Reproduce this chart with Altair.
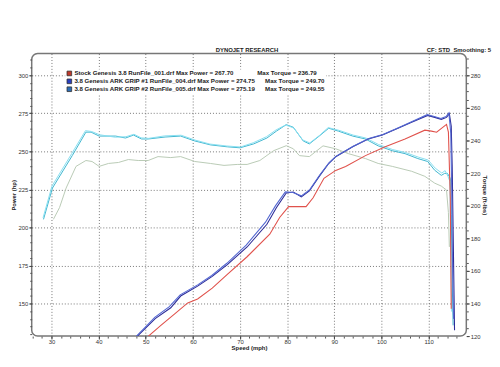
import altair as alt
import pandas as pd

FONT = "Liberation Sans"
NB = "\u00a0"

# ---------------- data ----------------
run_labels = [
    "Stock Genesis 3.8 RunFile_001.drf Max Power = 267.70" + NB * 14 + "Max Torque = 236.79",
    "3.8 Genesis ARK GRIP #1 RunFile_004.drf Max Power = 274.75" + NB * 6 + "Max Torque = 249.70",
    "3.8 Genesis ARK GRIP #2 RunFile_005.drf Max Power = 275.19" + NB * 6 + "Max Torque = 249.55",
]
torque_names = ["Stock torque", "GRIP #1 torque", "GRIP #2 torque"]

# Power (hp) vs speed (mph)
stock_p_speed = [50.5, 53.2, 56.2, 58.9, 61.0, 64.1, 67.3, 71.5, 76.3, 78.4, 80.3, 84.0, 85.5,
                 87.8, 90.3, 92.4, 96.6, 100.8, 105.0, 109.2, 110.6, 111.7, 113.8, 114.2, 114.6, 114.8]
stock_p = [128.5, 135.7, 143.4, 150.5, 153.1, 160.2, 169.2, 180.8, 195.6, 206.6, 213.7, 213.7, 219.5,
           232.3, 237.5, 240.1, 247.2, 253.0, 258.1, 263.9, 263.3, 262.6, 267.7, 262.6, 219.5, 146.6]

g1_p_speed = [48.0, 49.9, 52.0, 55.3, 57.4, 61.0, 64.1, 67.3, 71.5, 75.7, 77.7, 79.8, 81.3, 83.0,
              84.7, 86.8, 88.8, 90.3, 93.9, 97.2, 100.2, 103.5, 106.4, 109.8, 111.3, 112.7, 113.8,
              114.4, 114.8, 115.0, 115.2, 115.4, 115.5]
g1_p = [128.0, 133.8, 140.2, 147.3, 155.0, 161.5, 167.9, 175.6, 187.2, 202.1, 213.0, 222.7, 223.3, 220.1,
        224.0, 233.6, 242.0, 246.5, 253.0, 258.1, 260.7, 265.2, 269.1, 273.6, 272.3, 271.0, 272.3,
        274.75, 266.5, 240.7, 198.2, 155.0, 132.5]

g2_p_speed = [47.8, 49.8, 51.9, 55.0, 57.3, 61.0, 64.0, 67.2, 71.3, 75.4, 77.5, 79.6, 81.2, 83.0,
              84.8, 86.9, 88.9, 90.4, 94.0, 97.3, 100.3, 103.6, 106.5, 109.7, 111.2, 112.6, 113.7,
              114.3, 114.7, 114.9, 115.1, 115.3]
g2_p = [128.0, 134.2, 141.0, 148.0, 155.8, 162.3, 168.5, 176.5, 188.4, 203.5, 214.2, 223.4, 223.0, 220.8,
        224.9, 234.5, 242.6, 246.9, 253.4, 258.4, 261.1, 265.5, 269.6, 274.1, 272.9, 271.6, 272.8,
        275.19, 262.0, 225.0, 170.0, 140.0]

# Torque (ft-lbs) vs speed (mph)
stock_t_speed = [30.4, 31.7, 33.1, 35.2, 37.3, 38.6, 40.1, 42.1, 44.2, 46.3, 48.4, 50.5, 52.6, 55.3,
                 57.4, 60.4, 63.7, 66.6, 69.4, 71.5, 74.2, 77.1, 79.8, 81.3, 82.6, 84.7, 87.6, 90.3,
                 93.0, 96.6, 99.3, 102.3, 106.4, 109.2, 111.3, 112.7, 113.8, 114.2, 114.4]
stock_t = [191.6, 198.8, 210.8, 224.1, 227.7, 227.1, 224.1, 225.9, 226.5, 228.3, 227.7, 227.7, 230.1, 229.5,
           230.1, 227.1, 225.9, 224.7, 225.3, 225.3, 227.7, 233.7, 236.79, 234.9, 230.7, 230.1, 236.7, 234.9,
           231.9, 228.9, 225.9, 224.1, 221.1, 218.0, 213.8, 212.0, 209.6, 195.8, 174.7]

g1_t_speed = [28.3, 30.2, 34.4, 37.3, 38.4, 40.1, 43.6, 45.7, 47.4, 49.1, 50.5, 54.1, 57.4, 60.4,
              63.7, 67.3, 70.0, 72.9, 75.7, 77.7, 79.8, 81.3, 83.4, 84.7, 86.8, 88.8, 90.9, 93.9,
              96.6, 99.3, 102.3, 105.0, 107.7, 109.8, 111.3, 112.7, 113.4, 114.0, 114.6, 114.8, 115.0, 115.2]
g1_t = [191.6, 210.8, 230.7, 245.1, 245.1, 242.7, 242.7, 241.5, 243.3, 240.9, 240.9, 242.1, 242.7, 239.7,
        237.3, 236.1, 235.5, 237.9, 241.5, 245.7, 249.7, 248.1, 239.7, 237.9, 242.7, 247.5, 245.7, 242.7,
        240.9, 236.7, 233.7, 231.9, 228.9, 227.1, 221.7, 218.6, 219.8, 219.8, 216.8, 194.6, 154.9, 126.6]

g2_t_speed = [28.2, 30.1, 34.3, 37.2, 38.5, 40.2, 43.5, 45.8, 47.5, 49.0, 50.6, 54.0, 57.5, 60.5,
              63.6, 67.2, 70.1, 72.8, 75.6, 77.6, 79.7, 81.4, 83.3, 84.8, 86.9, 88.7, 91.0, 94.0,
              96.7, 99.4, 102.4, 105.1, 107.8, 109.9, 111.4, 112.8, 113.5, 114.1, 114.5, 114.7, 114.9]
g2_t = [192.5, 212.0, 232.0, 246.0, 245.5, 243.5, 242.0, 242.3, 243.8, 241.6, 241.3, 242.8, 243.2, 240.2,
        237.8, 236.6, 236.0, 238.6, 242.3, 246.4, 249.55, 247.6, 240.3, 238.5, 243.2, 247.9, 246.2, 243.3,
        241.5, 237.5, 234.4, 232.6, 229.8, 228.0, 223.0, 220.0, 221.5, 218.0, 215.0, 180.0, 135.0]

speed_ticks = [30, 40, 50, 60, 70, 80, 90, 100, 110]
speed_minor = list(range(26, 118, 2))
power_ticks = [150, 175, 200, 225, 250, 275, 300]
power_minor = list(range(130, 315, 5))
torque_ticks = [120, 140, 160, 180, 200, 220, 240, 260, 280]
torque_minor = list(range(120, 294, 5))

power_colors = ["#e0524c", "#2c2c98", "#5468d2"]
legend_colors = ["#c0392b", "#2a3fc0", "#2c6db5"]
torque_colors = ["#b9cab5", "#3fb6cf", "#88def0"]


def frame(speeds, vals, name):
    return pd.DataFrame({"speed": speeds, "value": vals, "run": name, "idx": list(range(len(speeds)))})


power_df = pd.concat([
    frame(stock_p_speed, stock_p, run_labels[0]),
    frame(g1_p_speed, g1_p, run_labels[1]),
    frame(g2_p_speed, g2_p, run_labels[2]),
])
torque_df = pd.concat([
    frame(stock_t_speed, stock_t, torque_names[0]),
    frame(g1_t_speed, g1_t, torque_names[1]),
    frame(g2_t_speed, g2_t, torque_names[2]),
])

X_DOM = [25.8, 118.0]
P_DOM = [128.7, 314.2]
T_DOM = [120, 293.3]


def xs():
    return alt.Scale(domain=X_DOM, nice=False, zero=False)


def ps():
    return alt.Scale(domain=P_DOM, nice=False, zero=False)


def ts():
    return alt.Scale(domain=T_DOM, nice=False, zero=False)


lab = dict(labelFont=FONT, labelFontSize=6, labelColor="#333", titleFont=FONT,
           titleFontSize=6, titleFontWeight="bold", titleColor="#222", domain=False)

# minor tick layers (invisible marks, only axes)
minor_p = alt.Chart(power_df).mark_line(opacity=0).encode(
    x=alt.X("speed:Q", scale=xs(), axis=alt.Axis(orient="bottom", values=speed_minor, labels=False,
                                                  title=None, grid=False, domain=False, tickSize=2,
                                                  tickColor="#555")),
    y=alt.Y("value:Q", scale=ps(),
            axis=alt.Axis(orient="left", values=power_minor, labels=False, title=None, grid=False,
                          domain=False, tickSize=2, tickColor="#555")),
    detail="run:N",
)
minor_t = alt.Chart(torque_df).mark_line(opacity=0).encode(
    x=alt.X("speed:Q", scale=xs(), axis=None),
    y=alt.Y("value:Q", scale=ts(),
            axis=alt.Axis(orient="right", values=torque_minor, labels=False, title=None, grid=False,
                          domain=False, tickSize=2, tickColor="#555")),
    detail="run:N",
)

torque = alt.Chart(torque_df).mark_line(strokeWidth=1.0, clip=True).encode(
    x=alt.X("speed:Q", scale=xs(), axis=None),
    y=alt.Y("value:Q", scale=ts(),
            axis=alt.Axis(orient="right", values=torque_ticks, title="Torque (ft-lbs)", grid=False,
                          tickSize=3, tickColor="#444", labelPadding=1, titlePadding=1, **lab)),
    stroke=alt.Stroke("run:N", scale=alt.Scale(domain=torque_names, range=torque_colors), legend=None),
    order="idx:Q",
)

power = alt.Chart(power_df).mark_line(strokeWidth=1.1, clip=True).encode(
    x=alt.X("speed:Q", scale=xs(),
            axis=alt.Axis(orient="bottom", values=speed_ticks, title="Speed (mph)", grid=True,
                          gridDash=[1, 2], gridColor="#555", gridWidth=0.8, tickSize=3,
                          tickColor="#444", labelPadding=0, titlePadding=0, **lab)),
    y=alt.Y("value:Q", scale=ps(),
            axis=alt.Axis(orient="left", values=power_ticks, title="Power (hp)", grid=True,
                          gridDash=[1, 2], gridColor="#555", gridWidth=0.8, tickSize=3,
                          tickColor="#444", labelPadding=1, titlePadding=1, **lab)),
    color=alt.Color("run:N", scale=alt.Scale(domain=run_labels, range=power_colors), legend=None),
    order="idx:Q",
)

# legend-only layer (no rows drawn; legend entries come from the fill scale domain)
legend_layer = alt.Chart(power_df).transform_filter("datum.value < 0").mark_square(
    size=22, opacity=1, filled=True
).encode(
    x=alt.X("speed:Q", scale=xs(), axis=None),
    y=alt.Y("value:Q", scale=ps(), axis=None),
    fill=alt.Fill("run:N", scale=alt.Scale(domain=run_labels, range=legend_colors),
                  legend=alt.Legend(orient="none", legendX=34, legendY=16, title=None,
                                    labelFont=FONT, labelFontSize=6.2, labelFontWeight="bold",
                                    labelColor="#222", labelLimit=500, symbolType="square",
                                    symbolSize=22, symbolStrokeColor="#333", symbolStrokeWidth=0.8,
                                    symbolOpacity=1, rowPadding=-3, labelOffset=2, padding=1,
                                    fillColor="white")),
)

title_txt = alt.Chart(pd.DataFrame({"t": ["DYNOJET RESEARCH"]})).mark_text(
    font=FONT, fontSize=6, fontWeight="bold", color="#222", align="center", baseline="middle"
).encode(text="t:N", x=alt.value(218), y=alt.value(-4))

cf_txt = alt.Chart(pd.DataFrame({"t": ["CF: STD" + NB * 2 + "Smoothing: 5"]})).mark_text(
    font=FONT, fontSize=6, fontWeight="bold", color="#222", align="left", baseline="middle"
).encode(text="t:N", x=alt.value(400), y=alt.value(-4))

chart = alt.layer(minor_p, minor_t, torque, power, legend_layer, title_txt, cf_txt).resolve_scale(
    x="independent", y="independent", stroke="independent", fill="independent"
).resolve_axis(x="independent", y="independent").properties(
    width=440, height=286, autosize="none", background="white",
    padding={"left": 24, "top": 44, "right": 26, "bottom": 16},
).configure_view(stroke="#777", strokeWidth=1.5, cornerRadius=6)

chart.save("out.html", embed_options={"renderer": "svg", "actions": False})
